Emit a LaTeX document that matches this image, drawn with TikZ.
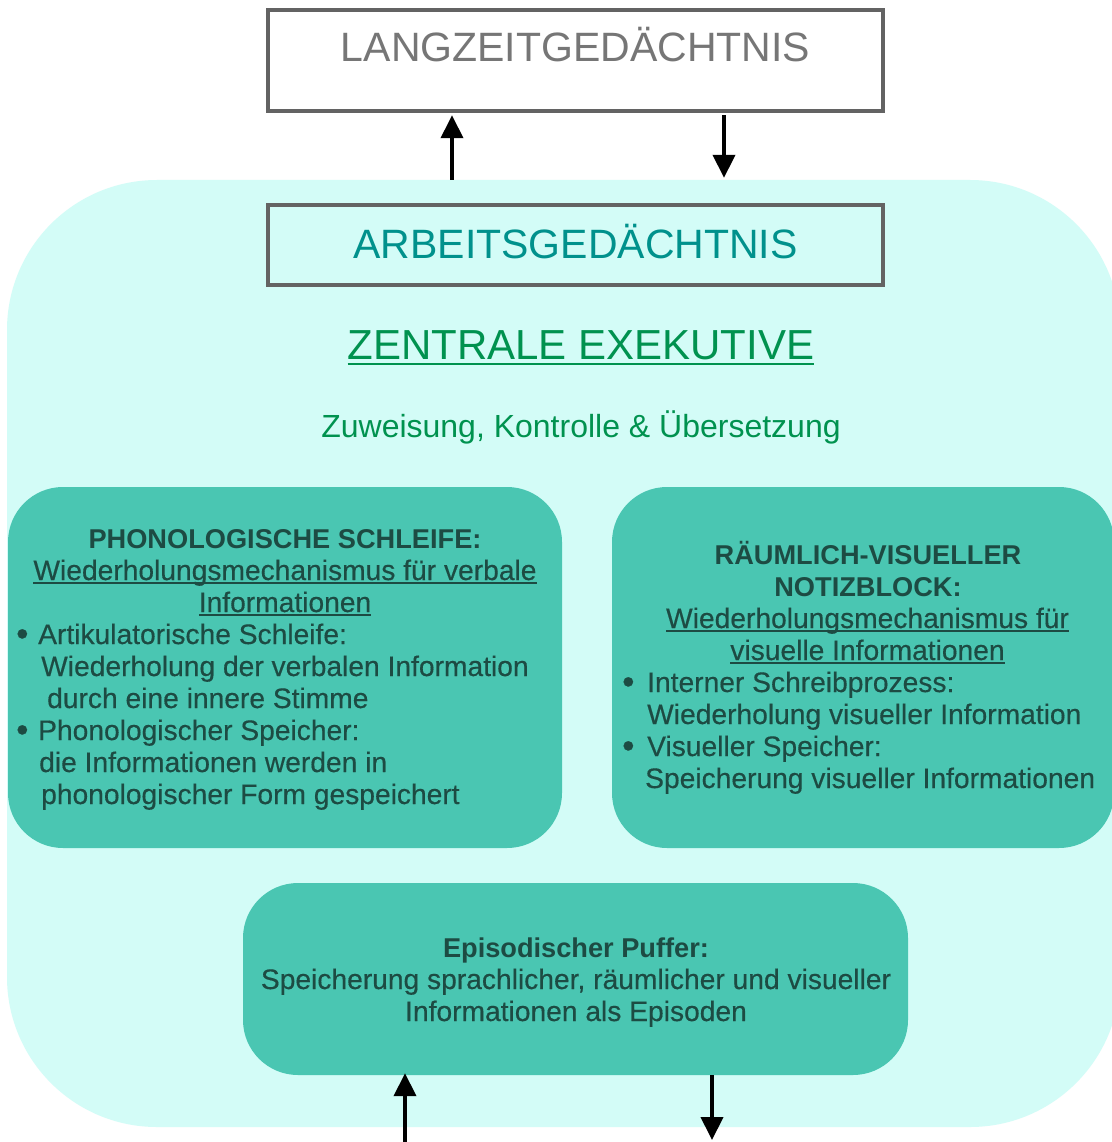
\documentclass[tikz,border=0pt]{standalone}
\usepackage{fontspec}
\setmainfont{Liberation Sans}
\newfontfamily\boxfont[FakeBold=0.4]{Liberation Sans}
\usetikzlibrary{arrows.meta}

\definecolor{wmbg}{HTML}{D3FCF7}
\definecolor{boxfill}{HTML}{4AC6B2}
\definecolor{boxtext}{HTML}{1D4B43}
\definecolor{frame}{HTML}{636363}
\definecolor{ltmtext}{HTML}{767676}
\definecolor{wmtext}{HTML}{00918C}
\definecolor{cetext}{HTML}{00924F}

% underline drawn just below the baseline: #1 offset, #2 thickness, #3 text
\newcommand{\ulbar}[3]{\setbox0=\hbox{#3}\rlap{\rule[-#1]{\wd0}{#2}}\box0}
% list bullet followed by the item text column
\newcommand{\itemdot}[1]{\makebox[#1][l]{\raisebox{-1.5pt}{\fontsize{35}{32}\selectfont •}}}

\tikzset{
  region/.style={fill=wmbg, draw=none, rounded corners=150pt, inner sep=0pt},
  titlebox/.style={draw=frame, line width=4.5pt, inner sep=0pt, minimum width=615pt},
  compbox/.style={fill=boxfill, draw=none, rounded corners=55pt, inner sep=0pt},
  boxline/.style={inner sep=0pt, text=boxtext, font=\boxfont\fontsize{28.2}{32}\selectfont},
  boxhead/.style={inner sep=0pt, text=boxtext, font=\fontsize{27.2}{32}\selectfont\bfseries},
  flow/.style={line width=4pt, -{Triangle[length=23pt,width=22pt]}},
}

\begin{document}
\begin{tikzpicture}[x=1pt, y=-1pt]
\path[use as bounding box, fill=white] (0,0) rectangle (1111,1142);

% working memory region
\node[region, minimum width=1113pt, minimum height=947pt] (wm) at (563.5,653.5) {};

% long-term memory
\node[titlebox, fill=white, text=ltmtext, font=\fontsize{41}{41}\selectfont,
      text height=52pt, text depth=49pt] (ltm) at (575.5,60.5) {LANGZEITGEDÄCHTNIS};

% working memory title
\node[titlebox, fill=wmbg, text=wmtext, font=\fontsize{41}{41}\selectfont,
      text height=53pt, text depth=27pt] (wmt) at (575.5,245) {ARBEITSGEDÄCHTNIS};

% central executive
\node[anchor=base, inner sep=0pt, text=cetext, font=\fontsize{42}{42}\selectfont]
  (ce) at (581,359) {\ulbar{6pt}{2.2pt}{ZENTRALE EXEKUTIVE}};
\node[anchor=base, inner sep=0pt, text=cetext, font=\fontsize{32}{32}\selectfont]
  (cesub) at (581,437) {Zuweisung, Kontrolle \& Übersetzung};

% component boxes
\node[compbox, minimum width=554pt, minimum height=361pt] (pl) at (285,667.5) {};
\node[compbox, minimum width=502pt, minimum height=361pt] (vs) at (863,667.5) {};
\node[compbox, minimum width=665pt, minimum height=192pt] (buf) at (575.5,979) {};

% phonological loop text
\node[boxhead, anchor=base] (pl1) at (285,548) {PHONOLOGISCHE SCHLEIFE:};
\node[boxline, anchor=base] (pl2) at (285,580) {\ulbar{3.5pt}{1.4pt}{Wiederholungsmechanismus für verbale}};
\node[boxline, anchor=base] (pl3) at (285,612) {\ulbar{3.5pt}{1.4pt}{Informationen}};
\node[boxline, anchor=base west] (pl4) at (16,644) {\itemdot{22pt}Artikulatorische Schleife:};
\node[boxline, anchor=base west] (pl5) at (41,676) {Wiederholung der verbalen Information};
\node[boxline, anchor=base west] (pl6) at (47,708) {durch eine innere Stimme};
\node[boxline, anchor=base west] (pl7) at (16,740) {\itemdot{22pt}Phonologischer Speicher:};
\node[boxline, anchor=base west] (pl8) at (39,772) {die Informationen werden in};
\node[boxline, anchor=base west] (pl9) at (41,804) {phonologischer Form gespeichert};

% visuo-spatial sketchpad text
\node[boxhead, anchor=base] (vs1) at (868,564) {RÄUMLICH-VISUELLER};
\node[boxhead, anchor=base] (vs2) at (868,596) {NOTIZBLOCK:};
\node[boxline, anchor=base] (vs3) at (867.5,628) {\ulbar{3.5pt}{1.4pt}{Wiederholungsmechanismus für}};
\node[boxline, anchor=base] (vs4) at (867.5,660) {\ulbar{3.5pt}{1.4pt}{visuelle Informationen}};
\node[boxline, anchor=base west] (vs5) at (622,692) {\itemdot{25pt}Interner Schreibprozess:};
\node[boxline, anchor=base west] (vs6) at (647,724) {Wiederholung visueller Information};
\node[boxline, anchor=base west] (vs7) at (622,756) {\itemdot{25pt}Visueller Speicher:};
\node[boxline, anchor=base west] (vs8) at (645,788) {Speicherung visueller Informationen};

% episodic buffer text
\node[boxhead, anchor=base] (buf1) at (576,957) {Episodischer Puffer:};
\node[boxline, anchor=base] (buf2) at (576,989) {Speicherung sprachlicher, räumlicher und visueller};
\node[boxline, anchor=base] (buf3) at (576,1021) {Informationen als Episoden};

% exchange with long-term memory
\coordinate (upx) at (452,0);
\coordinate (dnx) at (724,0);
\draw[flow, shorten >=2pt] (upx |- wm.north) -- (upx |- ltm.south);
\draw[flow, shorten <=2pt, shorten >=2pt] (dnx |- ltm.south) -- (dnx |- wm.north);

% input and output of the episodic buffer
\coordinate (inb) at (405,1142);
\coordinate (outb) at (712,1142);
\draw[flow, shorten >=-2pt] (inb) -- (inb |- buf.south);
\draw[flow, shorten >=2pt] (outb |- buf.south) -- (outb);
\end{tikzpicture}
\end{document}
